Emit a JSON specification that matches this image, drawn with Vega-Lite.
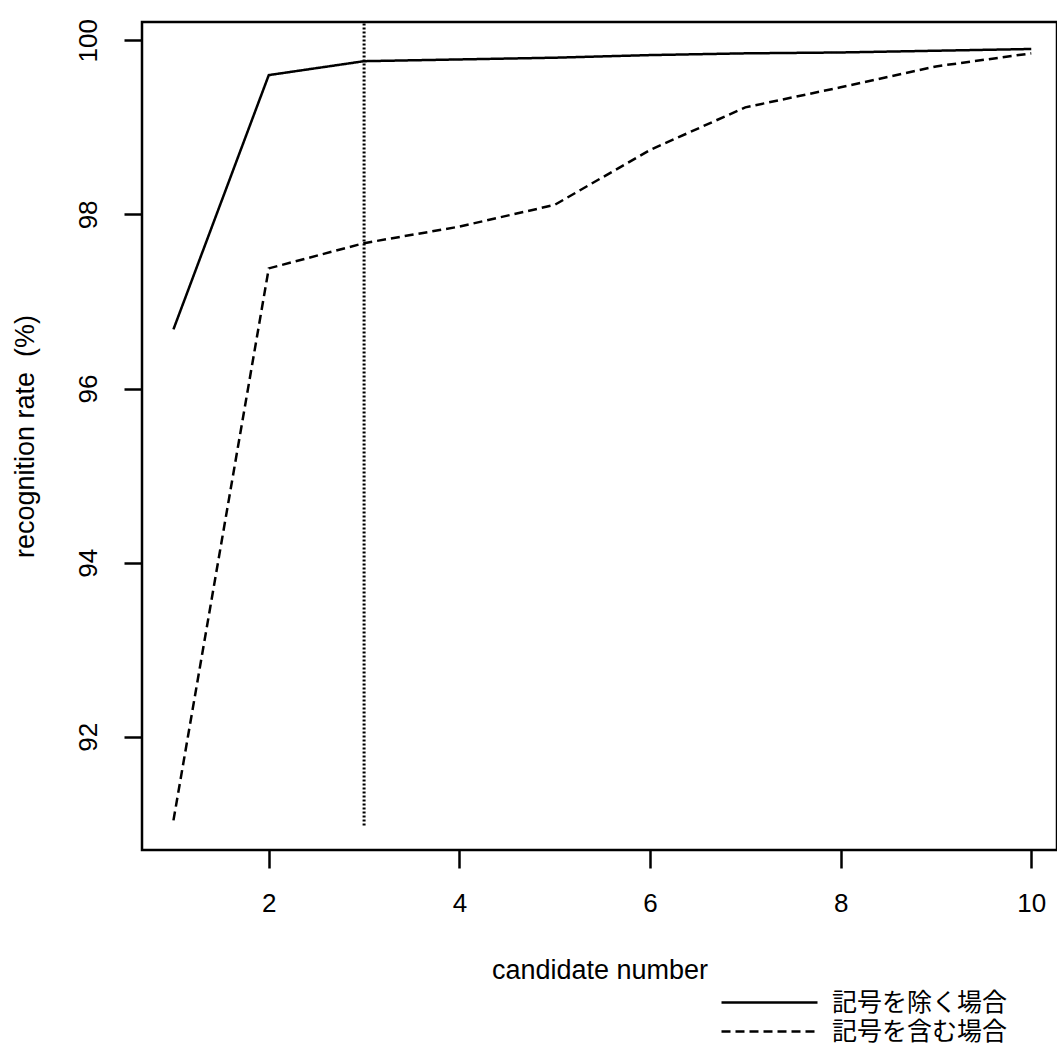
{
  "$schema": "https://vega.github.io/schema/vega-lite/v6.json",
  "width": 915,
  "height": 828,
  "autosize": {"type": "none"},
  "padding": {"left": 142, "top": 22, "right": 0, "bottom": 201},
  "background": "white",
  "config": {
    "view": {"stroke": "black", "strokeWidth": 2.5},
    "axis": {
      "domain": false,
      "grid": false,
      "tickColor": "black",
      "tickWidth": 2.5,
      "tickSize": 18,
      "labelColor": "black",
      "labelFont": "Liberation Sans",
      "labelFontSize": 26,
      "labelFontWeight": "normal",
      "titleColor": "black",
      "titleFont": "Liberation Sans",
      "titleFontSize": 27,
      "titleFontWeight": "normal"
    }
  },
  "datasets": {
    "rates": [
      {"candidate": 1, "rate": 96.68, "series": "記号を除く場合"},
      {"candidate": 2, "rate": 99.60, "series": "記号を除く場合"},
      {"candidate": 3, "rate": 99.76, "series": "記号を除く場合"},
      {"candidate": 4, "rate": 99.78, "series": "記号を除く場合"},
      {"candidate": 5, "rate": 99.80, "series": "記号を除く場合"},
      {"candidate": 6, "rate": 99.83, "series": "記号を除く場合"},
      {"candidate": 7, "rate": 99.85, "series": "記号を除く場合"},
      {"candidate": 8, "rate": 99.86, "series": "記号を除く場合"},
      {"candidate": 9, "rate": 99.88, "series": "記号を除く場合"},
      {"candidate": 10, "rate": 99.90, "series": "記号を除く場合"},
      {"candidate": 1, "rate": 91.04, "series": "記号を含む場合"},
      {"candidate": 2, "rate": 97.38, "series": "記号を含む場合"},
      {"candidate": 3, "rate": 97.67, "series": "記号を含む場合"},
      {"candidate": 4, "rate": 97.86, "series": "記号を含む場合"},
      {"candidate": 5, "rate": 98.11, "series": "記号を含む場合"},
      {"candidate": 6, "rate": 98.74, "series": "記号を含む場合"},
      {"candidate": 7, "rate": 99.23, "series": "記号を含む場合"},
      {"candidate": 8, "rate": 99.46, "series": "記号を含む場合"},
      {"candidate": 9, "rate": 99.70, "series": "記号を含む場合"},
      {"candidate": 10, "rate": 99.85, "series": "記号を含む場合"}
    ],
    "cutoff": [
      {"candidate": 3, "lo": 90.98, "hi": 100.21}
    ]
  },
  "layer": [
    {
      "data": {"name": "cutoff"},
      "mark": {"type": "rule", "color": "black", "strokeWidth": 3, "strokeDash": [2, 2]},
      "encoding": {
        "x": {"field": "candidate", "type": "quantitative"},
        "y": {"field": "lo", "type": "quantitative"},
        "y2": {"field": "hi"}
      }
    },
    {
      "data": {"name": "rates"},
      "mark": {"type": "line", "color": "black", "strokeWidth": 2.5, "clip": true},
      "encoding": {
        "x": {
          "field": "candidate",
          "type": "quantitative",
          "scale": {"domain": [0.67, 10.27], "nice": false, "zero": false},
          "axis": {
            "values": [2, 4, 6, 8, 10],
            "format": "d",
            "labelPadding": 22,
            "title": "candidate number",
            "titleY": 128,
            "titleBaseline": "alphabetic"
          }
        },
        "y": {
          "field": "rate",
          "type": "quantitative",
          "scale": {"domain": [90.7, 100.21], "nice": false, "zero": false},
          "axis": {
            "values": [92, 94, 96, 98, 100],
            "format": "d",
            "labelAngle": -90,
            "labelAlign": "center",
            "labelBaseline": "alphabetic",
            "labelPadding": 28,
            "title": "recognition rate\u00a0 (%)",
            "titleFontSize": 27,
            "titleX": -109,
            "titleBaseline": "alphabetic"
          }
        },
        "strokeDash": {
          "field": "series",
          "type": "nominal",
          "scale": {
            "domain": ["記号を除く場合", "記号を含む場合"],
            "range": [[1, 0], [9, 5]]
          },
          "legend": {
            "title": null,
            "orient": "none",
            "legendX": 615,
            "legendY": 968,
            "padding": 0,
            "symbolType": "M-8,0H8",
            "symbolSize": 144,
            "symbolStrokeColor": "black",
            "symbolFillColor": "transparent",
            "symbolStrokeWidth": 2.5,
            "labelFont": "Noto Sans CJK JP",
            "labelFontSize": 25,
            "labelColor": "black",
            "labelOffset": 50,
            "labelLimit": 400,
            "rowPadding": 3
          }
        }
      }
    }
  ]
}
